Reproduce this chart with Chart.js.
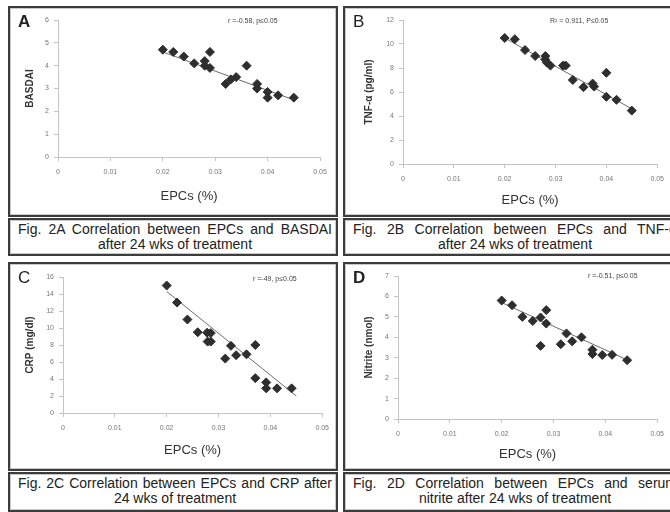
<!DOCTYPE html>
<html>
<head>
<meta charset="utf-8">
<script src="https://cdn.jsdelivr.net/npm/chart.js@4"></script>
<style>
    html, body { margin: 0; padding: 0; background: #fff; }
    body { width: 670px; height: 512px; position: relative; overflow: hidden; font-family: "Liberation Sans", Arial, sans-serif; }
    .box { position: absolute; box-sizing: border-box; border: 2px solid #3c3c3c; box-shadow: inset 0 0 0 1px #c8c8c8; background: #fff; }
    .box canvas { position: absolute; left: 0; top: 0; }
    .letter { position: absolute; font-size: 17px; color: #222; }
    .stat { position: absolute; font-size: 7px; color: #444; white-space: nowrap; }
    .caption { font-size: 14px; color: #222; line-height: 15px; padding: 2px 4px 0 8px; text-align: center; white-space: nowrap; }
    .caption span { display: block; text-align: justify; text-align-last: justify; white-space: normal; }
</style>
</head>
<body>

<div class="box" id="boxA" style="left:8px;top:6px;width:330px;height:211px"><canvas id="chartA"></canvas>
    <div class="letter" style="left:8px;top:4px;font-weight:bold">A</div>
    <div class="stat" style="left:218px;top:9px">r =-0.58, p≤0.05</div></div>
<div class="box caption" style="left:8px;top:218px;width:330px;height:38px"><span>Fig. 2A Correlation between EPCs and BASDAI</span>after 24 wks of treatment</div>

<div class="box" id="boxB" style="left:343px;top:6px;width:330px;height:211px"><canvas id="chartB"></canvas>
    <div class="letter" style="left:8px;top:4px">B</div>
    <div class="stat" style="left:205px;top:9px">R² = 0.911, P≤0.05</div></div>
<div class="box caption" style="left:343px;top:218px;width:340px;height:38px"><span>Fig. 2B Correlation between EPCs and TNF-α</span>after 24 wks of treatment</div>

<div class="box" id="boxC" style="left:8px;top:262px;width:330px;height:209px"><canvas id="chartC"></canvas>
    <div class="letter" style="left:8px;top:4px">C</div>
    <div class="stat" style="left:243px;top:11px">r =-49, p≤0.05</div></div>
<div class="box caption" style="left:8px;top:472px;width:330px;height:40px"><span>Fig. 2C Correlation between EPCs and CRP after</span>24 wks of treatment</div>

<div class="box" id="boxD" style="left:343px;top:262px;width:330px;height:209px"><canvas id="chartD"></canvas>
    <div class="letter" style="left:8px;top:4px;font-weight:bold">D</div>
    <div class="stat" style="left:243px;top:8px">r =-0.51, p≤0.05</div></div>
<div class="box caption" style="left:343px;top:472px;width:340px;height:40px"><span>Fig. 2D Correlation between EPCs and serum</span>nitrite after 24 wks of treatment</div>

<script>
// EPCs (%) against each marker, one point per patient
const epcsA = [0.020, 0.022, 0.024, 0.026, 0.028, 0.028, 0.029, 0.029, 0.032, 0.033, 0.034, 0.036, 0.038, 0.038, 0.040, 0.040, 0.042, 0.045];
const basdai = [4.7, 4.6, 4.4, 4.1, 4.2, 4.0, 4.6, 3.9, 3.2, 3.4, 3.5, 4.0, 3.2, 3.0, 2.85, 2.6, 2.7, 2.6];

const epcsB = [0.020, 0.022, 0.024, 0.026, 0.028, 0.028, 0.0283, 0.029, 0.0315, 0.032, 0.0334, 0.0355, 0.0373, 0.0376, 0.040, 0.040, 0.042, 0.045];
const tnf = [10.5, 10.4, 9.5, 9.0, 9.0, 8.7, 8.45, 8.2, 8.2, 8.2, 7.0, 6.4, 6.7, 6.45, 7.6, 5.6, 5.35, 4.45];

const epcsC = [0.020, 0.022, 0.024, 0.026, 0.0278, 0.0285, 0.0279, 0.0285, 0.0313, 0.0324, 0.0334, 0.0354, 0.0371, 0.0371, 0.0392, 0.0392, 0.0413, 0.0441];
const crp = [15.0, 13.0, 11.0, 9.5, 9.45, 9.4, 8.4, 8.4, 6.4, 7.9, 6.8, 6.9, 8.0, 4.1, 3.6, 2.9, 2.9, 2.9];

const epcsD = [0.020, 0.022, 0.024, 0.026, 0.0275, 0.0286, 0.0286, 0.0275, 0.0314, 0.0325, 0.0336, 0.0354, 0.0375, 0.0375, 0.0394, 0.0413, 0.0442];
const nitrite = [5.8, 5.57, 5.0, 4.8, 4.97, 5.33, 4.67, 3.58, 3.66, 4.19, 3.8, 4.0, 3.39, 3.18, 3.13, 3.14, 2.88];

// trendline end points (x, y)
const trendX = [0.020, 0.045];
const trendA = [4.6, 2.5];
const trendB = [10.5, 4.6];
const trendC = [14.3, 2.0];
const trendD = [5.7, 2.8];

const xTicks = [0, 0.01, 0.02, 0.03, 0.04, 0.05];

function pts(xs, ys) {
    return xs.map((x, i) => ({ x: x, y: ys[i] }));
}

function makeChart(id, box, xs, ys, trend, yTitle, yMax, yStep, lay) {
    const el = document.getElementById(box);
    const canvas = document.getElementById(id);
    canvas.width = el.clientWidth;
    canvas.height = el.clientHeight;
    canvas.style.width = el.clientWidth + 'px';
    canvas.style.height = el.clientHeight + 'px';

    return new Chart(canvas, {
        type: 'scatter',
        data: {
            datasets: [
                {
                    data: pts(xs, ys),
                    pointStyle: 'rectRot',
                    pointRadius: 4.5,
                    backgroundColor: '#2e2e2e',
                    borderColor: '#2e2e2e',
                    borderWidth: 1
                },
                {
                    data: pts(trendX, trend),
                    showLine: true,
                    borderColor: '#6a6a6a',
                    borderWidth: 1,
                    pointRadius: 0
                }
            ]
        },
        options: {
            responsive: false,
            animation: false,
            events: [],
            layout: { padding: { left: lay.left, top: lay.top, right: lay.right, bottom: 0 } },
            plugins: { legend: { display: false }, tooltip: { enabled: false } },
            scales: {
                x: {
                    type: 'linear',
                    min: 0,
                    max: 0.05,
                    afterBuildTicks: (s) => { s.ticks = xTicks.map(v => ({ value: v })); },
                    afterFit: (s) => { s.height = lay.xh; },
                    border: { color: '#c4c4c4' },
                    grid: { drawOnChartArea: false, tickLength: 4, color: '#c4c4c4' },
                    ticks: {
                        padding: 7,
                        color: '#777',
                        font: { size: 7 },
                        callback: (v) => String(Number(v.toFixed(2)))
                    },
                    title: {
                        display: true,
                        text: 'EPCs (%)',
                        color: '#333',
                        font: { size: 13 },
                        padding: { top: 0, bottom: lay.tb }
                    }
                },
                y: {
                    min: 0,
                    max: yMax,
                    afterFit: (s) => { s.width = lay.yw; },
                    border: { color: '#c4c4c4' },
                    grid: { drawOnChartArea: false, tickLength: 4, color: '#c4c4c4' },
                    ticks: { stepSize: yStep, padding: 5, color: '#777', font: { size: 7 } },
                    title: {
                        display: true,
                        text: yTitle,
                        color: '#333',
                        font: { size: 10, weight: 'bold' },
                        padding: { top: 0, bottom: 0 }
                    }
                }
            }
        }
    });
}

makeChart('chartA', 'boxA', epcsA, basdai, trendA, 'BASDAI', 6, 1,
    { left: 14, top: 12, right: 16, yw: 34, xh: 58, tb: 11 });
makeChart('chartB', 'boxB', epcsB, tnf, trendB, 'TNF-α (pg/ml)', 12, 2,
    { left: 18, top: 12, right: 6, yw: 40, xh: 51, tb: 7 });
makeChart('chartC', 'boxC', epcsC, crp, trendC, 'CRP (mg/dl)', 16, 2,
    { left: 14, top: 13, right: 11, yw: 39, xh: 56, tb: 11 });
makeChart('chartD', 'boxD', epcsD, nitrite, trendD, 'Nitrite (nmol)', 7, 1,
    { left: 18, top: 12, right: 6, yw: 35, xh: 50, tb: 7 });
</script>
</body>
</html>
